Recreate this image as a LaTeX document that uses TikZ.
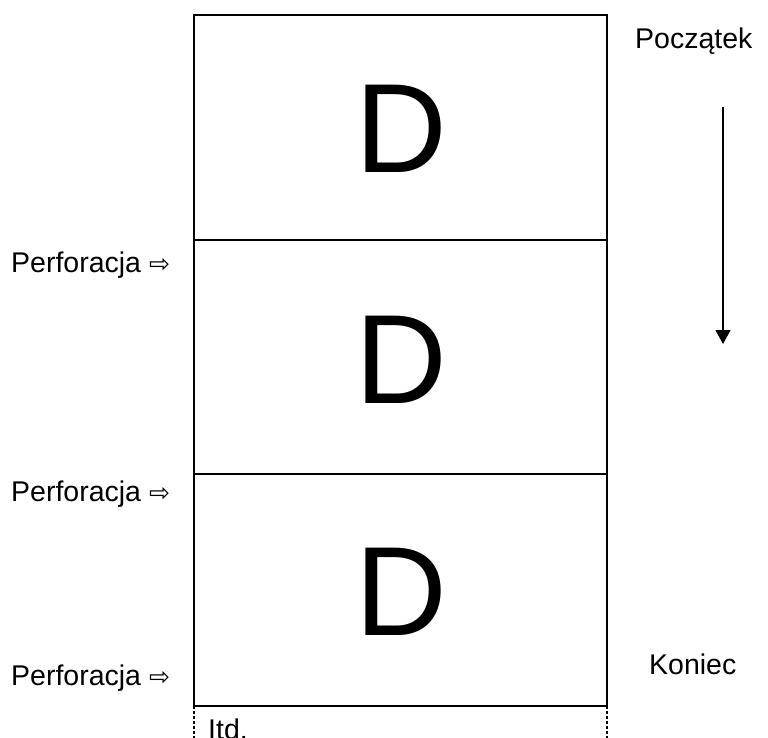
\documentclass[tikz,border=0pt]{standalone}
\usepackage{fontspec}
\setmainfont{Liberation Sans}
\newfontfamily\symfont{DejaVu Sans}
\usetikzlibrary{arrows.meta}
\begin{document}
\begin{tikzpicture}[x=1pt,y=-1pt,
  frame/.style={draw=black,line width=2.5pt},
  lbl/.style={anchor=base west,inner sep=0pt,font=\fontsize{28.5}{32}\selectfont},
  big/.style={inner sep=0pt,font=\fontsize{127}{140}\selectfont}]
\useasboundingbox (0,0) rectangle (768,738);
\coordinate (tl) at (194,15);
\coordinate (tr) at (607,15);
\coordinate (l1) at (194,240);
\coordinate (r1) at (607,240);
\coordinate (l2) at (194,474);
\coordinate (r2) at (607,474);
\coordinate (l3) at (194,706);
\coordinate (r3) at (607,706);
\coordinate (lb) at (194,740);
\coordinate (rb) at (607,740);
\draw[frame] (l3) -- (tl) -- (tr) -- (r3) -- cycle;
\draw[frame] (l1) -- (r1);
\draw[frame] (l2) -- (r2);
\draw[line width=2pt,dash pattern=on 3pt off 2pt] (l3) -- (lb);
\draw[line width=2pt,dash pattern=on 3pt off 2pt] (r3) -- (rb);
\node[big,anchor=base] (d1) at (401,173) {D};
\node[big,anchor=base] (d2) at (401,403) {D};
\node[big,anchor=base] (d3) at (401,635) {D};
\node[lbl] (p1) at (11,272) {Perforacja {\symfont\fontsize{25}{28}\selectfont ⇨}};
\node[lbl] (p2) at (11,501) {Perforacja {\symfont\fontsize{25}{28}\selectfont ⇨}};
\node[lbl] (p3) at (11,685) {Perforacja {\symfont\fontsize{25}{28}\selectfont ⇨}};
\node[lbl] (start) at (635,49) {Początek};
\node[lbl] (end) at (649,674) {Koniec};
\node[lbl] (itd) at (208,739) {Itd.};
\coordinate (a1) at (723,107);
\coordinate (a2) at (723,344);
\draw[line width=1.5pt,-{Triangle[length=14pt,width=15pt]}] (a1) -- (a2);
\end{tikzpicture}
\end{document}
